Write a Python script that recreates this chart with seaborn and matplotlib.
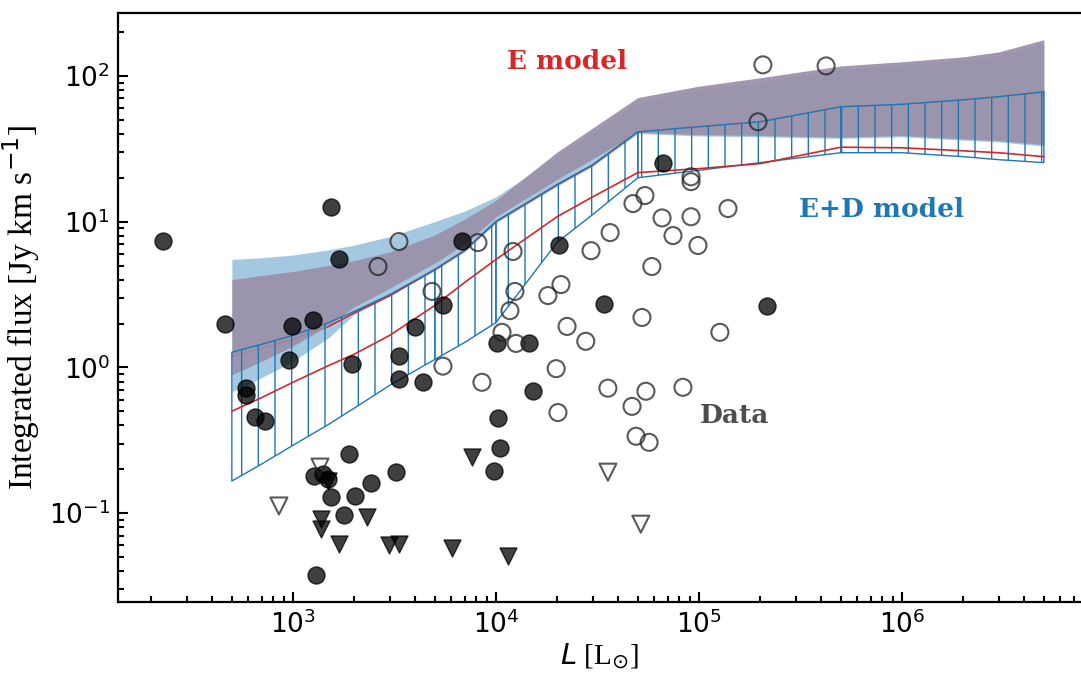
import numpy as np
import pandas as pd
import seaborn as sns
import matplotlib.pyplot as plt

# ---- model curves (luminosity grid in Lsun, fluxes in Jy km/s) ----
model_L = [500, 700, 1e3, 1.5e3, 2e3, 3e3, 5e3, 7e3, 1e4, 2e4, 3e4,
           5e4, 1e5, 2e5, 5e5, 1e6, 2e6, 3e6, 5e6]
# E model (purple band)
e_hi = [4.0, 4.27, 4.55, 5.0, 5.4, 6.2, 8.1, 10.4, 14.0, 30, 44,
        71, 85, 97, 117, 125, 135, 146, 177]
e_lo = [0.89, 1.10, 1.40, 1.95, 2.6, 3.5, 5.2, 7.0, 10.8, 19.5, 27,
        41, 39.5, 39, 38, 39, 37, 36, 33.7]
e_mid = [1.19, 1.35, 1.56, 1.91, 2.36, 3.1, 4.69, 6.33, 10.0, 17.9, 24.5,
         41.3, 44.8, 48.4, 61.4, 63.8, 68.5, 72, 77.7]
# E+D model (light blue band)
ed_hi = [5.5, 5.65, 5.9, 6.4, 6.9, 7.9, 10.0, 11.8, 14.8, 28, 41,
         66, 80, 90, 110, 118, 128, 138, 165]
ed_lo = [0.68, 0.85, 1.1, 1.6, 2.3, 3.1, 4.6, 6.2, 9.8, 17.5, 24,
         40.2, 38.7, 38.2, 37.2, 38.2, 36.2, 35.2, 33.0]
# E+D model (hatched band) and its median
hat_hi = [1.27, 1.44, 1.66, 2.03, 2.42, 3.16, 4.69, 6.33, 10.0, 17.9, 24.5,
          41.3, 44.8, 48.4, 61.4, 63.8, 68.5, 72, 77.7]
hat_lo = [0.166, 0.217, 0.292, 0.407, 0.524, 0.754, 1.135, 1.48, 2.03, 7.2, 11.2,
          20.0, 22.5, 25.4, 29.7, 29.7, 27.9, 26.6, 25.4]
hat_mid = [0.50, 0.62, 0.79, 1.03, 1.23, 1.66, 2.66, 3.82, 5.5, 10.8, 14.8,
           21.7, 23.1, 25.0, 32.4, 32.1, 30.6, 29.7, 27.9]
hatch_breaks = [0, 6, 8, 11, 14, 18]

# ---- observed sources ----
det_L = [229, 462, 1540, 1690, 6800, 586, 586, 650, 728, 955, 990, 1254, 1953,
         3327, 3327, 4365, 3990, 5480, 20400, 10100, 14560, 34000, 15200,
         10240, 10470, 9780, 3215, 1888, 1268, 1410, 1480, 1538, 2018, 2420,
         1784, 1298, 66500, 216000]
det_F = [7.4, 2.0, 12.5, 5.5, 7.4, 0.72, 0.65, 0.455, 0.427, 1.12, 1.91, 2.10, 1.06,
         1.19, 0.83, 0.79, 1.88, 2.70, 6.86, 1.48, 1.48, 2.74, 0.686,
         0.448, 0.279, 0.194, 0.191, 0.254, 0.179, 0.185, 0.172, 0.129, 0.131, 0.160,
         0.097, 0.0376, 25.4, 2.62]
ul_L = [1374, 1374, 1688, 2317, 2970, 3327, 6070, 11460, 7620, 1480]
ul_F = [0.091, 0.078, 0.061, 0.094, 0.060, 0.061, 0.058, 0.051, 0.242, 0.165]
ul_open_L = [853, 1359, 35600, 51700]
ul_open_F = [0.112, 0.207, 0.191, 0.084]
open_L = [3327, 2624, 4842, 5480, 8150, 12140, 12400, 11720, 10710, 12560, 8530,
          18030, 20900, 22400, 27700, 19800, 29400, 36500, 47300, 54200, 65800,
          91400, 74500, 98900, 58600, 52400, 126800, 91400, 91400, 20200, 35600,
          54800, 46800, 83400, 49000, 56800, 206500, 423000, 195500, 139000]
open_F = [7.3, 4.92, 3.32, 1.02, 7.18, 6.24, 3.32, 2.45, 1.74, 1.46, 0.79,
          3.11, 3.70, 1.91, 1.51, 0.98, 6.32, 8.41, 13.3, 15.1, 10.6,
          10.8, 8.02, 6.86, 4.92, 2.20, 1.74, 20.3, 18.8, 0.49, 0.72,
          0.686, 0.54, 0.73, 0.337, 0.306, 119, 117, 48.4, 12.3]

sns.set_style("ticks")
plt.rcParams["font.family"] = ["Liberation Serif", "DejaVu Serif"]
plt.rcParams["hatch.linewidth"] = 1.0

fig = plt.figure(figsize=(10.81, 6.73), dpi=100)
ax = fig.add_axes([0.1096, 0.1055, 0.8904, 0.8752])

blue = "#1f77b4"
ax.fill_between(model_L, ed_lo, ed_hi, color=blue, alpha=0.4, lw=0, zorder=1)
ax.plot(model_L, e_mid, color="#d62728", lw=1.2, zorder=1.5)
ax.fill_between(model_L, e_lo, e_hi, color="#9a90a9", alpha=0.93, lw=0, zorder=2)
for a, b in zip(hatch_breaks[:-1], hatch_breaks[1:]):
    ax.fill_between(model_L[a:b + 1], hat_lo[a:b + 1], hat_hi[a:b + 1],
                    facecolor="none", edgecolor=blue, hatch="|", lw=1.0, zorder=3)
ax.plot(model_L, hat_mid, color="#d62728", lw=1.2, zorder=3.5)

mk = dict(s=150, ax=ax, zorder=5, legend=False)
sns.scatterplot(x=det_L, y=det_F, marker="o", color="k", alpha=0.75,
                edgecolor="k", linewidth=1.0, **mk)
sns.scatterplot(x=ul_L, y=ul_F, marker="v", color="k", alpha=0.75,
                edgecolor="k", linewidth=1.0, **mk)
sns.scatterplot(x=open_L, y=open_F, marker="o", facecolors="none",
                edgecolor="#222222", alpha=0.75, linewidth=1.5, **mk)
sns.scatterplot(x=ul_open_L, y=ul_open_F, marker="v", facecolors="none",
                edgecolor="#222222", alpha=0.75, linewidth=1.5, **mk)

ax.text(2.24e4, 125, "E model", color="#d62728", fontsize=19, fontweight="bold",
        family="DejaVu Serif", ha="center", va="center")
ax.text(7.96e5, 12.1, "E+D model", color=blue, fontsize=19, fontweight="bold",
        family="DejaVu Serif", ha="center", va="center")
ax.text(1.5e5, 0.469, "Data", color="#4d4d4d", fontsize=19, fontweight="bold",
        family="DejaVu Serif", ha="center", va="center")

ax.set_xscale("log")
ax.set_yscale("log")
ax.set_xlim(138.2, 7.62e6)
ax.set_ylim(0.02457, 270)

ax.set_xlabel(r"$L$ [L$_{\odot}$]", fontsize=21)
ax.set_ylabel(r"Integrated flux [Jy km s$^{-1}$]", fontsize=24)
ax.xaxis.set_label_coords(0.5, -0.066)
ax.yaxis.set_label_coords(-0.0795, 0.5)

for sp in ax.spines.values():
    sp.set_linewidth(1.6)
    sp.set_color("black")
ax.spines["right"].set_visible(False)
ax.tick_params(which="both", direction="in", top=False, right=False,
               width=1.5, color="black", labelcolor="black")
ax.tick_params(which="major", length=7, pad=6, labelsize=19)
ax.tick_params(which="minor", length=4)
for lbl in ax.get_xticklabels() + ax.get_yticklabels():
    lbl.set_family("DejaVu Sans")
ax.xaxis.label.set_color("black")
ax.yaxis.label.set_color("black")

fig.savefig("out.png", dpi=100)
